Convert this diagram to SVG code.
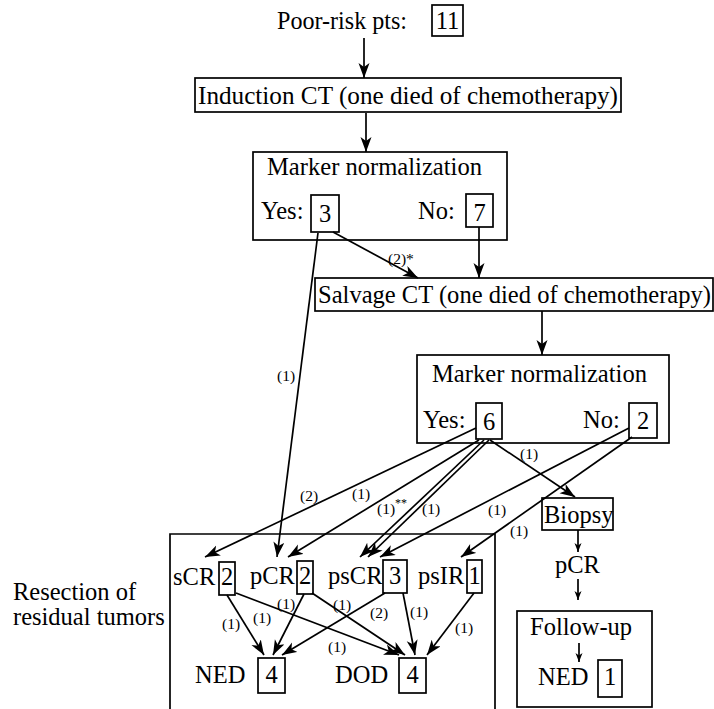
<svg xmlns="http://www.w3.org/2000/svg" width="714" height="709" viewBox="0 0 714 709">
<defs>
<marker id="ah" markerUnits="userSpaceOnUse" markerWidth="17" markerHeight="12" refX="15" refY="5.5" orient="auto"><path d="M0,0 L15,5.5 L0,11 L4,5.5 z" fill="#000"/></marker>
<marker id="ahs" markerUnits="userSpaceOnUse" markerWidth="11" markerHeight="9" refX="9" refY="3.5" orient="auto"><path d="M0,0 L9,3.5 L0,7 L2.5,3.5 z" fill="#000"/></marker>
</defs>
<style>
.t{font-size:24.5px;fill:#000}
.s{font-size:15.5px;fill:#000}
.ss{font-size:12px;fill:#000}
.b{fill:none;stroke:#000;stroke-width:1.7}
.c{fill:none;stroke:#000;stroke-width:1.7;marker-end:url(#ah)}
.cs{fill:none;stroke:#000;stroke-width:1.7;marker-end:url(#ahs)}
.m{text-anchor:middle}
</style>
<rect width="714" height="709" fill="#fff"/>
<g font-family="Liberation Serif, Times New Roman, serif">
<g id="poor">
<text class="t" x="277" y="29" textLength="130" lengthAdjust="spacingAndGlyphs">Poor-risk pts:</text>
<rect class="b" x="432" y="5" width="31" height="31"/>
<text class="t m" x="447.5" y="29">11</text>
</g>

<g id="induction">
<rect class="b" x="195" y="78" width="426" height="34"/>
<text class="t" x="198" y="104" textLength="420" lengthAdjust="spacingAndGlyphs">Induction CT (one died of chemotherapy)</text>
</g>

<g id="marker1">
<rect class="b" x="253" y="152" width="254" height="88"/>
<text class="t" x="267" y="175" textLength="215" lengthAdjust="spacingAndGlyphs">Marker normalization</text>
<text class="t" x="261" y="219">Yes:</text>
<rect class="b" x="311" y="195" width="28" height="37"/>
<text class="t m" x="325" y="222">3</text>
<text class="t" x="418" y="219">No:</text>
<rect class="b" x="466" y="194" width="27" height="33"/>
<text class="t m" x="479.5" y="221">7</text>
</g>

<g id="salvage">
<rect class="b" x="315" y="278" width="398" height="33"/>
<text class="t" x="318" y="303" textLength="393" lengthAdjust="spacingAndGlyphs">Salvage CT (one died of chemotherapy)</text>
</g>

<g id="marker2">
<rect class="b" x="417" y="355" width="252" height="88"/>
<text class="t" x="432" y="382" textLength="215" lengthAdjust="spacingAndGlyphs">Marker normalization</text>
<text class="t" x="423" y="428">Yes:</text>
<rect class="b" x="476" y="403" width="26" height="36"/>
<text class="t m" x="489" y="430">6</text>
<text class="t" x="583" y="428">No:</text>
<rect class="b" x="629" y="403" width="28" height="35"/>
<text class="t m" x="643" y="429">2</text>
</g>

<g id="resection">
<path class="b" d="M170,712 V534 H495 V712"/>
<text class="t" x="13" y="600">Resection of</text>
<text class="t" x="13" y="625">residual tumors</text>
</g>

<g id="sCR">
<text class="t" x="173" y="585">sCR</text>
<rect class="b" x="219" y="562" width="16" height="33"/>
<text class="t m" x="227" y="585">2</text>
</g>
<g id="pCR">
<text class="t" x="250" y="584">pCR</text>
<rect class="b" x="297" y="561" width="16" height="33"/>
<text class="t m" x="305" y="584">2</text>
</g>
<g id="psCR">
<text class="t" x="328" y="584">psCR</text>
<rect class="b" x="383" y="560" width="24" height="33"/>
<text class="t m" x="395" y="584">3</text>
</g>
<g id="psIR">
<text class="t" x="418" y="584">psIR</text>
<rect class="b" x="467" y="560" width="15" height="33"/>
<text class="t m" x="474.5" y="584">1</text>
</g>
<g id="NED">
<text class="t" x="195" y="683">NED</text>
<rect class="b" x="258" y="658" width="27" height="35"/>
<text class="t m" x="271.5" y="683">4</text>
</g>
<g id="DOD">
<text class="t" x="335" y="683">DOD</text>
<rect class="b" x="399" y="658" width="27" height="35"/>
<text class="t m" x="412.5" y="683">4</text>
</g>

<g id="biopsy">
<rect class="b" x="542" y="498" width="71" height="32"/>
<text class="t" x="544" y="523">Biopsy</text>
</g>
<g id="pCR2">
<text class="t" x="555" y="573">pCR</text>
</g>
<g id="followup">
<rect class="b" x="517" y="611" width="135" height="96"/>
<text class="t" x="530" y="635">Follow-up</text>
<text class="t" x="538" y="685">NED</text>
<rect class="b" x="598" y="660" width="24" height="37"/>
<text class="t m" x="610" y="685">1</text>
</g>

<g id="connectors">
<path class="c" d="M364,38 V78"/>
<path class="c" d="M366,113 V152"/>
<path class="c" d="M333,232 L418,278"/>
<path class="c" d="M479,227 V278"/>
<path class="c" d="M318,233 L277,557"/>
<path class="c" d="M542,311 V355"/>
<path class="c" d="M476,428 L205,557"/>
<path class="c" d="M479,440 L288,557"/>
<path class="c" d="M484,440 L360,557"/>
<path class="c" d="M489,440 L368,557"/>
<path class="c" d="M490,440 L575,497"/>
<path class="c" d="M629,428 L380,557"/>
<path class="c" d="M632,437 L461,557"/>
<path class="cs" d="M578,530 V552"/>
<path class="cs" d="M578,579 V600"/>
<path class="cs" d="M579,643 V662"/>
<path class="c" d="M227,595 L264,655"/>
<path class="c" d="M236,593 L399,655"/>
<path class="c" d="M304,594 L273,655"/>
<path class="c" d="M312,593 L405,655"/>
<path class="c" d="M385,593 L282,655"/>
<path class="c" d="M403,593 L415,655"/>
<path class="c" d="M474,593 L427,655"/>
</g>

<g id="labels">
<text class="s" x="388" y="264">(2)*</text>
<text class="s" x="277" y="381">(1)</text>
<text class="s" x="300" y="501">(2)</text>
<text class="s" x="352" y="499">(1)</text>
<text class="s" x="377" y="514">(1)</text>
<text class="ss" x="395" y="507">**</text>
<text class="s" x="422" y="514">(1)</text>
<text class="s" x="520" y="459">(1)</text>
<text class="s" x="488" y="515">(1)</text>
<text class="s" x="510" y="536">(1)</text>
<text class="s" x="222" y="629">(1)</text>
<text class="s" x="253" y="623">(1)</text>
<text class="s" x="277" y="609">(1)</text>
<text class="s" x="333" y="610">(1)</text>
<text class="s" x="370" y="618">(2)</text>
<text class="s" x="410" y="617">(1)</text>
<text class="s" x="455" y="633">(1)</text>
<text class="s" x="328" y="652">(1)</text>
</g>
</g>
</svg>
